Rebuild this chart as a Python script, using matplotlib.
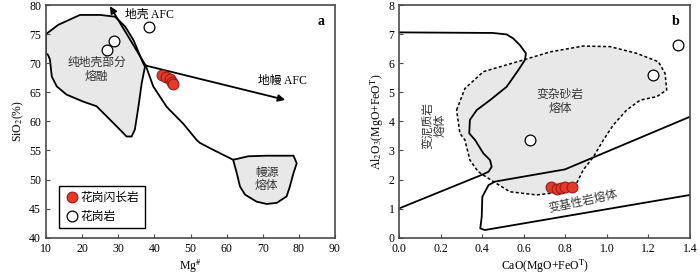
import matplotlib.pyplot as plt
from matplotlib.patches import Polygon

plt.rcParams['font.family'] = ['Liberation Serif', 'Noto Sans CJK SC']
plt.rcParams['mathtext.fontset'] = 'stix'
plt.rcParams['font.size'] = 8.5

# ---- panel a: Mg# vs SiO2 ----
crust_x = [10.0, 13.4, 19.4, 25.0, 29.1, 31.9, 34.2, 36.9, 37.4, 36.5, 35.6, 34.6, 33.7,
           32.3, 30.9, 27.7, 24.0, 20.3, 15.7, 13.0, 11.6, 11.1, 10.6, 10.0]
crust_y = [75.0, 76.6, 78.3, 78.3, 78.0, 76.3, 74.0, 70.0, 69.4, 66.6, 62.6, 58.6, 57.4,
           57.4, 58.3, 60.3, 62.6, 63.4, 64.6, 66.0, 67.7, 70.6, 71.4, 71.7]
mantle_x = [61.8, 66.0, 71.1, 78.5, 79.4, 78.5, 77.5, 76.6, 73.9, 71.1, 68.3, 65.1, 63.7, 62.8]
mantle_y = [53.4, 54.0, 54.1, 54.1, 52.8, 51.1, 48.8, 47.1, 46.0, 45.8, 46.2, 47.4, 48.8, 51.1]
trend_x = [37.6, 39.7, 43.4, 48.0, 51.7, 52.6, 56.3, 61.8]
trend_y = [69.6, 66.0, 62.5, 59.6, 56.8, 56.3, 55.1, 53.4]
afc_origin = (37.6, 69.6)
crust_afc_tip = (27.7, 79.8)
mantle_afc_tip = (76.2, 63.7)
gd_mg = [42.0, 43.2, 44.2, 44.8, 45.2]
gd_si = [68.0, 67.7, 67.2, 66.8, 66.4]
gr_mg = [26.8, 28.9, 38.5]
gr_si = [72.3, 73.9, 76.2]

# ---- panel b: CaO/(MgO+FeOT) vs Al2O3/(MgO+FeOT) ----
pelite_x = [0.0, 0.45, 0.517, 0.549, 0.581, 0.61, 0.605, 0.573, 0.517, 0.437, 0.373, 0.34, 0.337,
            0.365, 0.405, 0.437, 0.445, 0.43, 0.397, 0.0]
pelite_y = [7.06, 7.04, 6.99, 6.85, 6.62, 6.34, 6.11, 5.76, 5.19, 4.73, 4.39, 4.05, 3.59,
            3.36, 2.9, 2.67, 2.44, 2.27, 2.16, 1.01]
grey_x = [0.276, 0.316, 0.405, 0.597, 0.726, 0.886, 1.015, 1.143, 1.248, 1.28, 1.288, 1.24,
          1.16, 1.095, 1.03, 0.983, 0.935, 0.886, 0.854, 0.79, 0.662, 0.533, 0.453, 0.38,
          0.34, 0.316, 0.292]
grey_y = [4.39, 5.13, 5.71, 6.11, 6.39, 6.59, 6.57, 6.34, 6.05, 5.65, 5.08, 4.85,
          4.73, 4.39, 3.87, 3.36, 2.78, 2.33, 1.87, 1.58, 1.47, 1.58, 1.93, 2.27,
          2.67, 3.36, 3.59]
mafic_x = [1.4, 0.798, 0.461, 0.43, 0.40, 0.397, 0.39, 0.412, 1.4]
mafic_y = [4.16, 2.35, 1.93, 1.81, 1.41, 0.72, 0.32, 0.265, 1.47]
gd_ca = [0.73, 0.76, 0.78, 0.80, 0.83]
gd_al = [1.75, 1.68, 1.72, 1.74, 1.73]
gr_ca = [0.63, 1.224, 1.344]
gr_al = [3.36, 5.59, 6.62]

fig = plt.figure(figsize=(7, 2.8), dpi=100)
ax1 = fig.add_axes([0.0657, 0.151, 0.4129, 0.831])
ax2 = fig.add_axes([0.5704, 0.151, 0.4153, 0.831])

red = dict(s=60, facecolor='#e43a2c', edgecolor='#9c1a14', linewidths=0.8, zorder=5)
hollow = dict(s=60, facecolor='white', edgecolor='black', linewidths=0.9, zorder=5)

for ax in (ax1, ax2):
    for sp in ax.spines.values():
        sp.set_color('#4a4a4a')
        sp.set_linewidth(1.2)
    ax.tick_params(direction='in', length=3, width=0.8, color='#4a4a4a', labelsize=8.5,
                   top=False, right=False)

# panel a
ax1.add_patch(Polygon(list(zip(crust_x, crust_y)), closed=True, facecolor='#e8e8e8',
                      edgecolor='black', lw=1.3, zorder=1))
ax1.add_patch(Polygon(list(zip(mantle_x, mantle_y)), closed=True, facecolor='#e8e8e8',
                      edgecolor='black', lw=1.3, zorder=1))
ax1.plot(trend_x, trend_y, color='black', lw=1.3, zorder=2)
for tip in (crust_afc_tip, mantle_afc_tip):
    ax1.annotate('', xy=tip, xytext=afc_origin,
                 arrowprops=dict(arrowstyle='-|>', color='black', lw=1.3,
                                 mutation_scale=10, shrinkA=0, shrinkB=0), zorder=3)
ax1.scatter(gd_mg, gd_si, label='花岗闪长岩', **red)
ax1.scatter(gr_mg, gr_si, label='花岗岩', **hollow)
ax1.text(24.0, 68.8, '纯地壳部分\n熔融', ha='center', va='center', fontsize=8.5,
         color='#333333', linespacing=1.2)
ax1.text(71.1, 50.0, '幔源\n熔体', ha='center', va='center', fontsize=8.5,
         color='#333333', linespacing=1.2)
ax1.text(31.8, 78.3, '地壳 AFC', ha='left', va='center', fontsize=8.5)
ax1.text(75.5, 66.9, '地幔 AFC', ha='center', va='center', fontsize=8.5)
ax1.text(0.95, 0.93, 'a', transform=ax1.transAxes, ha='center', va='center',
         fontsize=10, fontweight='bold')
ax1.set_xlim(10, 90)
ax1.set_ylim(40, 80)
ax1.set_xticks(range(10, 91, 10))
ax1.set_yticks(range(40, 81, 5))
ax1.set_xlabel('Mg$^{\\#}$', labelpad=2)
ax1.set_ylabel('SiO$_2$(%)', labelpad=2)
leg = ax1.legend(loc='lower left', bbox_to_anchor=(0.046, 0.04), borderaxespad=0,
                 fancybox=False, edgecolor='black', framealpha=1, handletextpad=0.1,
                 handlelength=1.2, borderpad=0.5, labelspacing=0.6, fontsize=8.5)
leg.get_frame().set_linewidth(1.0)

# panel b
ax2.fill(grey_x, grey_y, facecolor='#e8e8e8', edgecolor='black', lw=1.1,
         linestyle=(0, (2, 1.5)), zorder=1)
ax2.plot(pelite_x, pelite_y, color='black', lw=1.3, zorder=2)
ax2.plot(mafic_x, mafic_y, color='black', lw=1.3, zorder=2)
ax2.scatter(gd_ca, gd_al, **red)
ax2.scatter(gr_ca, gr_al, **hollow)
ax2.text(0.774, 4.68, '变杂砂岩\n熔体', ha='center', va='center', fontsize=8.5,
         color='#333333', linespacing=1.2)
ax2.text(0.17, 3.87, '变泥质岩\n熔体', ha='center', va='center', fontsize=8.5,
         color='#333333', rotation=90, linespacing=1.0)
ax2.text(0.886, 1.24, '变基性岩熔体', ha='center', va='center', fontsize=8.5,
         color='#333333', rotation=12)
ax2.text(0.95, 0.93, 'b', transform=ax2.transAxes, ha='center', va='center',
         fontsize=10, fontweight='bold')
ax2.set_xlim(0, 1.4)
ax2.set_ylim(0, 8)
ax2.set_xticks([0.0, 0.2, 0.4, 0.6, 0.8, 1.0, 1.2, 1.4])
ax2.set_xticklabels(['0.0', '0.2', '0.4', '0.6', '0.8', '1.0', '1.2', '1.4'])
ax2.set_yticks(range(0, 9))
ax2.set_xlabel('CaO(MgO+FeO$^{\\mathrm{T}}$)', labelpad=2)
ax2.set_ylabel('Al$_2$O$_3$(MgO+FeO$^{\\mathrm{T}}$)', labelpad=2)

fig.savefig('out.png', dpi=100)
